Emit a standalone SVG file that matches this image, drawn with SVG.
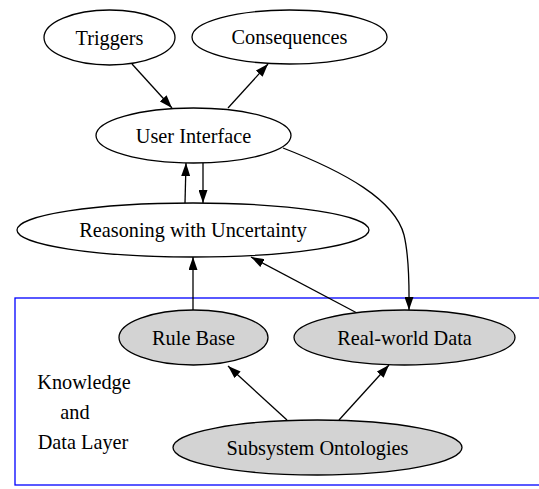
<svg xmlns="http://www.w3.org/2000/svg" width="539" height="489" viewBox="0 0 539 489">
<style>
.n ellipse{fill:#fff;stroke:#000;stroke-width:1.3}
.g ellipse{fill:#d3d3d3}
text{font-family:"Liberation Serif","Times New Roman",serif;font-size:20.3px;fill:#000;text-anchor:middle}
.e path{fill:none;stroke:#000;stroke-width:1.3}
</style>
<defs>
<marker id="a" viewBox="0 0 13 9" refX="13" refY="4.5" markerWidth="13" markerHeight="9" markerUnits="userSpaceOnUse" orient="auto">
<path d="M0,0 L13,4.5 L0,9 Z" fill="#000"/>
</marker>
</defs>
<rect id="cluster" x="15" y="298" width="530" height="187" fill="none" stroke="#0000ff" stroke-width="1.3"/>
<text x="84" y="389">Knowledge</text>
<text x="75" y="419">and</text>
<text x="83" y="449">Data Layer</text>
<g class="e" id="edges">
<path d="M132,64 L172,108" marker-end="url(#a)"/>
<path d="M228,108 L268,64" marker-end="url(#a)"/>
<path d="M185,203 L186,163" marker-end="url(#a)"/>
<path d="M203,163 L203,203" marker-end="url(#a)"/>
<path d="M283,148 C345,172 395,200 404,235 C410,260 409,290 409,310" marker-end="url(#a)"/>
<path d="M193,310 L193,257" marker-end="url(#a)"/>
<path d="M357,313 L251,257" marker-end="url(#a)"/>
<path d="M287,420 L228,366" marker-end="url(#a)"/>
<path d="M339,420 L389,365" marker-end="url(#a)"/>
</g>
<g class="n" id="triggers"><ellipse cx="109.5" cy="37.5" rx="65.5" ry="27.5"/><text x="109.5" y="44.5">Triggers</text></g>
<g class="n" id="consequences"><ellipse cx="289.5" cy="37" rx="97.5" ry="27"/><text x="289.5" y="44">Consequences</text></g>
<g class="n" id="ui"><ellipse cx="193.5" cy="135.5" rx="97.5" ry="27.5"/><text x="193.5" y="142.5">User Interface</text></g>
<g class="n" id="reasoning"><ellipse cx="193" cy="230" rx="176" ry="27"/><text x="193" y="237">Reasoning with Uncertainty</text></g>
<g class="n g" id="rulebase"><ellipse cx="193.5" cy="337.5" rx="74.5" ry="27.5"/><text x="193.5" y="344.5">Rule Base</text></g>
<g class="n g" id="realworld"><ellipse cx="404.5" cy="337.5" rx="110.5" ry="27.5"/><text x="404.5" y="344.5">Real-world Data</text></g>
<g class="n g" id="ontologies"><ellipse cx="317.5" cy="447.5" rx="144.5" ry="27.5"/><text x="317.5" y="454.5">Subsystem Ontologies</text></g>
</svg>
